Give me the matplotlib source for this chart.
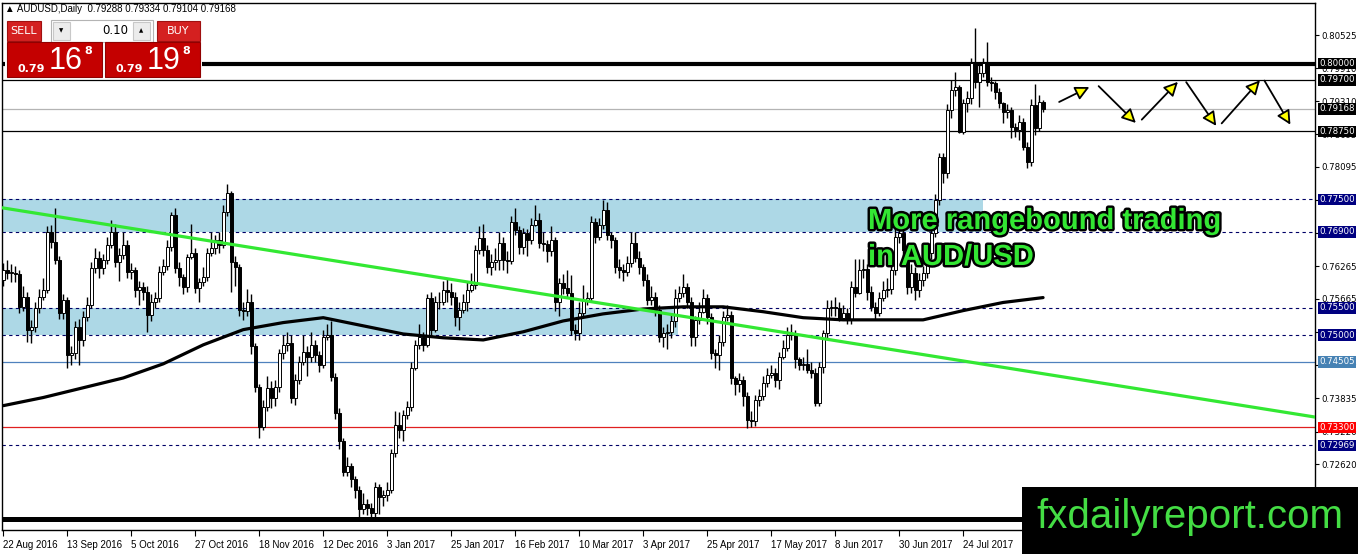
import numpy as np
import matplotlib.pyplot as plt
import matplotlib.patheffects as pe
import matplotlib.transforms as mtransforms
from matplotlib.patches import Rectangle, FancyArrowPatch

# AUDUSD daily candles, 22 Aug 2016 .. Aug 2017 (open = previous close)
first_open = 0.7602
closes = [
    0.7620, 0.7615, 0.7615, 0.7613, 0.7552, 0.7571, 0.7510, 0.7515, 0.7550, 0.7571,
    0.7583, 0.7690, 0.7672, 0.7639, 0.7541, 0.7565, 0.7464, 0.7467, 0.7514, 0.7491,
    0.7534, 0.7556, 0.7624, 0.7642, 0.7624, 0.7639, 0.7666, 0.7690, 0.7635, 0.7648,
    0.7666, 0.7617, 0.7620, 0.7583, 0.7589, 0.7580, 0.7537, 0.7561, 0.7569, 0.7617,
    0.7628, 0.7662, 0.7721, 0.7624, 0.7607, 0.7589, 0.7644, 0.7652, 0.7587, 0.7598,
    0.7607, 0.7652, 0.7661, 0.7675, 0.7666, 0.7727, 0.7762, 0.7635, 0.7626, 0.7547,
    0.7545, 0.7560, 0.7479, 0.7405, 0.7331, 0.7368, 0.7403, 0.7385, 0.7405, 0.7467,
    0.7482, 0.7486, 0.7385, 0.7418, 0.7451, 0.7469, 0.7460, 0.7482, 0.7464, 0.7445,
    0.7497, 0.7501, 0.7423, 0.7357, 0.7304, 0.7247, 0.7258, 0.7234, 0.7215, 0.7179,
    0.7188, 0.7182, 0.7173, 0.7221, 0.7201, 0.7205, 0.7215, 0.7283, 0.7335, 0.7326,
    0.7353, 0.7368, 0.7440, 0.7482, 0.7497, 0.7482, 0.7569, 0.7510, 0.7561, 0.7560,
    0.7583, 0.7580, 0.7571, 0.7534, 0.7547, 0.7561, 0.7583, 0.7593, 0.7657, 0.7679,
    0.7657, 0.7626, 0.7635, 0.7639, 0.7670, 0.7639, 0.7637, 0.7709, 0.7694, 0.7662,
    0.7688, 0.7675, 0.7703, 0.7712, 0.7670, 0.7668, 0.7654, 0.7675, 0.7561, 0.7596,
    0.7587, 0.7578, 0.7510, 0.7504, 0.7541, 0.7565, 0.7569, 0.7709, 0.7681, 0.7703,
    0.7731, 0.7685, 0.7675, 0.7626, 0.7620, 0.7617, 0.7633, 0.7670, 0.7642, 0.7626,
    0.7602, 0.7565, 0.7571, 0.7547, 0.7497, 0.7504, 0.7506, 0.7525, 0.7569, 0.7578,
    0.7589, 0.7561, 0.7497, 0.7528, 0.7543, 0.7569, 0.7534, 0.7467, 0.7464, 0.7488,
    0.7534, 0.7537, 0.7421, 0.7409, 0.7418, 0.7387, 0.7344, 0.7342, 0.7381, 0.7387,
    0.7412, 0.7427, 0.7431, 0.7418, 0.7460, 0.7477, 0.7501, 0.7503, 0.7455, 0.7445,
    0.7447, 0.7436, 0.7431, 0.7375, 0.7442, 0.7504, 0.7550, 0.7552, 0.7549, 0.7532,
    0.7541, 0.7528, 0.7589, 0.7578, 0.7620, 0.7622, 0.7580, 0.7552, 0.7541, 0.7569,
    0.7583, 0.7585, 0.7620, 0.7681, 0.7688, 0.7657, 0.7589, 0.7615, 0.7583, 0.7602,
    0.7615, 0.7652, 0.7688, 0.7749, 0.7828, 0.7799, 0.7915, 0.7951, 0.7957, 0.7874,
    0.7927, 0.7937, 0.8001, 0.7966, 0.7983, 0.8001, 0.7966, 0.7964, 0.7948, 0.7927,
    0.7911, 0.7915, 0.7883, 0.7878, 0.7893, 0.7847, 0.7819, 0.7924, 0.7882, 0.79288,
    0.79168]
highs = [
    0.7632, 0.7638, 0.7630, 0.7628, 0.7620, 0.7590, 0.7580, 0.7528, 0.7560, 0.7585,
    0.7605, 0.7700, 0.7702, 0.7734, 0.7645, 0.7575, 0.7570, 0.7480, 0.7525, 0.7530,
    0.7545, 0.7570, 0.7635, 0.7660, 0.7655, 0.7650, 0.7680, 0.7712, 0.7705, 0.7660,
    0.7690, 0.7675, 0.7632, 0.7625, 0.7600, 0.7598, 0.7590, 0.7575, 0.7580, 0.7628,
    0.7640, 0.7675, 0.7727, 0.7734, 0.7635, 0.7612, 0.7650, 0.7705, 0.7660, 0.7605,
    0.7625, 0.7660, 0.7690, 0.7685, 0.7690, 0.7740, 0.7778, 0.7765, 0.7645, 0.7630,
    0.7560, 0.7585, 0.7575, 0.7485, 0.7410, 0.7380, 0.7425, 0.7415, 0.7418, 0.7475,
    0.7501, 0.7505, 0.7500, 0.7428, 0.7462, 0.7500, 0.7480, 0.7505, 0.7490, 0.7470,
    0.7510, 0.7520, 0.7525, 0.7430, 0.7365, 0.7310, 0.7275, 0.7265, 0.7240, 0.7222,
    0.7210, 0.7198, 0.7190, 0.7230, 0.7225, 0.7215, 0.7230, 0.7290, 0.7360, 0.7358,
    0.7362, 0.7378, 0.7450, 0.7490, 0.7520, 0.7505, 0.7575, 0.7580, 0.7572, 0.7580,
    0.7600, 0.7605, 0.7595, 0.7580, 0.7560, 0.7575, 0.7600, 0.7615, 0.7665, 0.7700,
    0.7705, 0.7665, 0.7650, 0.7660, 0.7690, 0.7680, 0.7655, 0.7720, 0.7734, 0.7700,
    0.7698, 0.7695, 0.7715, 0.7740, 0.7725, 0.7690, 0.7675, 0.7700, 0.7680, 0.7605,
    0.7612, 0.7620, 0.7610, 0.7520, 0.7560, 0.7593, 0.7580, 0.7720, 0.7715, 0.7715,
    0.7749, 0.7745, 0.7690, 0.7680, 0.7640, 0.7630, 0.7645, 0.7690, 0.7690, 0.7655,
    0.7630, 0.7612, 0.7590, 0.7580, 0.7555, 0.7515, 0.7520, 0.7540, 0.7585, 0.7590,
    0.7612, 0.7595, 0.7570, 0.7535, 0.7560, 0.7585, 0.7575, 0.7540, 0.7475, 0.7500,
    0.7545, 0.7555, 0.7545, 0.7425, 0.7430, 0.7425, 0.7395, 0.7360, 0.7390, 0.7400,
    0.7425, 0.7440, 0.7445, 0.7440, 0.7468, 0.7490, 0.7515, 0.7520, 0.7510, 0.7460,
    0.7460, 0.7475, 0.7450, 0.7440, 0.7450, 0.7510, 0.7565, 0.7565, 0.7570, 0.7560,
    0.7555, 0.7550, 0.7600, 0.7640, 0.7640, 0.7640, 0.7630, 0.7590, 0.7560, 0.7580,
    0.7600, 0.7605, 0.7630, 0.7700, 0.7712, 0.7700, 0.7665, 0.7630, 0.7625, 0.7615,
    0.7628, 0.7665, 0.7700, 0.7760, 0.7835, 0.7835, 0.7925, 0.7970, 0.7985, 0.7960,
    0.7935, 0.7950, 0.8010, 0.8065, 0.8000, 0.8010, 0.8040, 0.7975, 0.7968, 0.7955,
    0.7930, 0.7925, 0.7920, 0.7890, 0.7905, 0.7900, 0.7855, 0.7935, 0.7962, 0.7942,
    0.79334]
lows = [
    0.7590, 0.7604, 0.7598, 0.7597, 0.7540, 0.7545, 0.7488, 0.7485, 0.7506, 0.7540,
    0.7565, 0.7578, 0.7660, 0.7630, 0.7530, 0.7530, 0.7440, 0.7445, 0.7455, 0.7445,
    0.7480, 0.7525, 0.7550, 0.7615, 0.7605, 0.7612, 0.7630, 0.7660, 0.7625, 0.7600,
    0.7640, 0.7605, 0.7603, 0.7570, 0.7555, 0.7565, 0.7505, 0.7525, 0.7550, 0.7560,
    0.7610, 0.7620, 0.7655, 0.7615, 0.7590, 0.7575, 0.7580, 0.7640, 0.7578, 0.7560,
    0.7590, 0.7600, 0.7645, 0.7650, 0.7652, 0.7660, 0.7720, 0.7580, 0.7590, 0.7535,
    0.7528, 0.7535, 0.7465, 0.7395, 0.7311, 0.7325, 0.7360, 0.7365, 0.7370, 0.7395,
    0.7455, 0.7470, 0.7375, 0.7372, 0.7410, 0.7445, 0.7425, 0.7450, 0.7450, 0.7432,
    0.7440, 0.7490, 0.7415, 0.7345, 0.7290, 0.7240, 0.7240, 0.7220, 0.7200, 0.7165,
    0.7170, 0.7168, 0.7160, 0.7165, 0.7170, 0.7185, 0.7195, 0.7210, 0.7275, 0.7310,
    0.7305, 0.7345, 0.7360, 0.7435, 0.7475, 0.7470, 0.7478, 0.7500, 0.7505, 0.7548,
    0.7555, 0.7560, 0.7555, 0.7516, 0.7510, 0.7540, 0.7545, 0.7580, 0.7585, 0.7650,
    0.7645, 0.7615, 0.7610, 0.7620, 0.7620, 0.7620, 0.7615, 0.7630, 0.7685, 0.7650,
    0.7650, 0.7645, 0.7668, 0.7700, 0.7660, 0.7655, 0.7635, 0.7645, 0.7545, 0.7535,
    0.7575, 0.7570, 0.7500, 0.7490, 0.7490, 0.7535, 0.7555, 0.7560, 0.7670, 0.7675,
    0.7695, 0.7675, 0.7660, 0.7615, 0.7605, 0.7600, 0.7608, 0.7625, 0.7635, 0.7612,
    0.7590, 0.7555, 0.7555, 0.7535, 0.7488, 0.7478, 0.7475, 0.7495, 0.7515, 0.7560,
    0.7570, 0.7550, 0.7480, 0.7480, 0.7520, 0.7540, 0.7520, 0.7455, 0.7440, 0.7435,
    0.7480, 0.7525, 0.7410, 0.7390, 0.7395, 0.7370, 0.7329, 0.7330, 0.7332, 0.7370,
    0.7380, 0.7405, 0.7420, 0.7405, 0.7400, 0.7455, 0.7470, 0.7490, 0.7440, 0.7435,
    0.7435, 0.7430, 0.7420, 0.7370, 0.7370, 0.7430, 0.7495, 0.7535, 0.7535, 0.7525,
    0.7528, 0.7520, 0.7520, 0.7570, 0.7575, 0.7605, 0.7565, 0.7545, 0.7530, 0.7535,
    0.7562, 0.7570, 0.7575, 0.7610, 0.7670, 0.7645, 0.7575, 0.7578, 0.7565, 0.7570,
    0.7590, 0.7605, 0.7640, 0.7680, 0.7740, 0.7780, 0.7790, 0.7900, 0.7940, 0.7872,
    0.7870, 0.7910, 0.7925, 0.7955, 0.7920, 0.7975, 0.7958, 0.7950, 0.7935, 0.7918,
    0.7890, 0.7900, 0.7862, 0.7865, 0.7860, 0.7840, 0.7808, 0.7812, 0.7869, 0.7875,
    0.79104]

# 200-day moving average read every 10 bars
ma_idx = list(range(0, 261, 10))
ma_vals = [0.7370, 0.7385, 0.7403, 0.7421, 0.7447, 0.7482, 0.7510, 0.7523, 0.7532,
           0.7517, 0.7502, 0.7495, 0.7491, 0.7506, 0.7526, 0.7539, 0.7548, 0.7552,
           0.7552, 0.7543, 0.7532, 0.7528, 0.7528, 0.7528, 0.7545, 0.7560, 0.7569]

trend_x = [0, 328]
trend_y = [0.7734, 0.7349]

date_labels = ["22 Aug 2016", "13 Sep 2016", "5 Oct 2016", "27 Oct 2016", "18 Nov 2016",
               "12 Dec 2016", "3 Jan 2017", "25 Jan 2017", "16 Feb 2017", "10 Mar 2017",
               "3 Apr 2017", "25 Apr 2017", "17 May 2017", "8 Jun 2017", "30 Jun 2017",
               "24 Jul 2017"]
price_ticks = [0.80525, 0.79910, 0.79310, 0.78695, 0.78095, 0.77480, 0.76880, 0.76265,
               0.75665, 0.75050, 0.74450, 0.73835, 0.73220, 0.72620, 0.72005]

solid_levels = [(0.8000, "black", 3.0), (0.7970, "black", 0.9), (0.79168, "#b4b4b4", 0.9),
                (0.7875, "black", 0.9), (0.74505, "#4f81bd", 0.9), (0.7330, "#e02020", 0.9),
                (0.7162, "black", 3.6)]
dashed_levels = [0.7750, 0.7690, 0.7550, 0.7500, 0.72969]
label_boxes = [(0.8000, "black"), (0.7970, "black"), (0.79168, "black"), (0.7875, "black"),
               (0.7750, "#000080"), (0.7690, "#000080"), (0.7550, "#000080"),
               (0.7500, "#000080"), (0.74505, "#4682b4"), (0.7330, "#ff0000"),
               (0.72969, "#000080")]
zones = [(0.7690, 0.7750, 245), (0.7500, 0.7550, 168.7)]

zigzag = [((263.4, 0.7927), (272.2, 0.7959)), ((273.4, 0.7962), (283.7, 0.7887)),
          ((284.2, 0.7893), (294.2, 0.7970)), ((295.4, 0.7970), (303.7, 0.7881)),
          ((304.2, 0.7886), (314.7, 0.7973)), ((315.0, 0.7973), (322.2, 0.7883))]

W, H = 1358, 554
fig = plt.figure(figsize=(W / 100, H / 100), dpi=100)
ax = fig.add_axes([2 / W, 24 / H, 1313 / W, 527 / H])
ax.set_xlim(-0.33, 328)
ax.set_ylim(0.71410, 0.81115)

n = len(closes)
idx = np.arange(n)
c = np.array(closes)
o = np.array([first_open] + closes[:-1])
hi = np.maximum(np.array(highs), np.maximum(o, c))
lo = np.minimum(np.array(lows), np.minimum(o, c))

# zones and levels
for z_lo, z_hi, z_end in zones:
    ax.fill_between([-0.33, z_end], z_lo, z_hi, color="#add8e6", lw=0, zorder=1)
for lev in dashed_levels:
    ax.axhline(lev, color="#000066", lw=0.8, ls=(0, (3, 3)), zorder=2)
for lev, col, lw in solid_levels:
    ax.axhline(lev, color=col, lw=lw, zorder=2)

# candles
ax.vlines(idx, lo, hi, color="black", lw=1, zorder=3)
up = c >= o
body_lo = np.minimum(o, c)
body_h = np.maximum(np.abs(c - o), 0.00006)
ax.bar(idx[up], body_h[up], bottom=body_lo[up], width=0.72, color="white",
       edgecolor="black", lw=0.7, zorder=4)
ax.bar(idx[~up], body_h[~up], bottom=body_lo[~up], width=0.72, color="black",
       edgecolor="black", lw=0.7, zorder=4)

ax.plot(ma_idx, ma_vals, color="black", lw=2.3, zorder=5, solid_capstyle="round")
ax.plot(trend_x, trend_y, color="#33e833", lw=2.3, zorder=5)

for (x0, y0), (x1, y1) in zigzag:
    ax.add_patch(FancyArrowPatch((x0, y0), (x1, y1),
                                 arrowstyle="-|>,head_length=0.7,head_width=0.35",
                                 mutation_scale=12, fc="#ffff00", ec="black", lw=1.3,
                                 zorder=6))

# axes styling
ax.yaxis.tick_right()
ax.set_yticks(price_ticks)
ax.set_yticklabels([f"{v:.5f}" for v in price_ticks])
ax.tick_params(axis="y", direction="out", length=3, labelsize=6.2, pad=1.5)
ax.set_xticks(range(0, 16 * len(date_labels), 16))
ax.set_xticklabels(date_labels, fontsize=7, family="Liberation Sans")
ax.tick_params(axis="x", direction="out", length=4, pad=3)
for lab in ax.get_xticklabels():
    lab.set_ha("left")
for s in ax.spines.values():
    s.set_color("black")
    s.set_linewidth(1)

trans = mtransforms.blended_transform_factory(ax.transAxes, ax.transData)
for lev, col in label_boxes:
    ax.text(1.003, lev, f"{lev:.5f}", transform=trans, fontsize=6.2, color="white",
            ha="left", va="center", clip_on=False, zorder=20,
            bbox=dict(boxstyle="square,pad=0.15", fc=col, ec="none"))

# overlay in pixel coordinates for the terminal decorations
ov = fig.add_axes([0, 0, 1, 1], zorder=10)
ov.set_xlim(0, W)
ov.set_ylim(H, 0)
ov.axis("off")
ov.patch.set_alpha(0)

ov.text(5, 9, "\u25b2 AUDUSD,Daily  0.79288 0.79334 0.79104 0.79168", fontsize=7,
        va="center", family=["Liberation Sans", "DejaVu Sans"])

ov.add_patch(Rectangle((5, 19), 197, 60, fc="white", ec="none"))
ov.add_patch(Rectangle((7, 21), 34, 20, fc="#d42020", ec="#a01010", lw=0.8))
ov.text(24, 31, "SELL", color="white", fontsize=8, ha="center", va="center")
ov.add_patch(Rectangle((51, 20), 102, 22, fc="white", ec="#b4b4b4", lw=0.8))
ov.add_patch(Rectangle((53, 22), 17, 18, fc="#ececec", ec="#c8c8c8", lw=0.8))
ov.add_patch(Rectangle((133, 22), 17, 18, fc="#ececec", ec="#c8c8c8", lw=0.8))
ov.text(61.5, 31, "\u25bc", fontsize=4, ha="center", va="center")
ov.text(141.5, 31, "\u25b2", fontsize=4, ha="center", va="center")
ov.text(128, 31, "0.10", fontsize=8.5, ha="right", va="center")
ov.add_patch(Rectangle((157, 21), 43, 20, fc="#d42020", ec="#a01010", lw=0.8))
ov.text(178, 31, "BUY", color="white", fontsize=8, ha="center", va="center")
for bx, big in [(7, "16"), (105, "19")]:
    ov.add_patch(Rectangle((bx, 42), 95, 35, fc="#c40000", ec="#900000", lw=0.8))
    ov.text(bx + 24, 69, "0.79", color="white", fontsize=8, weight="bold",
            ha="center", va="center")
    ov.text(bx + 59, 61, big, color="white", fontsize=22, ha="center", va="center",
            family="Liberation Sans")
    ov.text(bx + 81, 51, "8", color="white", fontsize=8, weight="bold",
            ha="center", va="center")

glow = [pe.withStroke(linewidth=3.5, foreground="black")]
ov.text(868, 221, "More rangebound trading", fontsize=21, weight="bold",
        color="#33e633", va="center", family="Liberation Sans", path_effects=glow)
ov.text(868, 257, "in AUD/USD", fontsize=21, weight="bold",
        color="#33e633", va="center", family="Liberation Sans", path_effects=glow)

ov.add_patch(Rectangle((1022, 487), 336, 67, fc="black", ec="none"))
ov.text(1190, 517, "fxdailyreport.com", fontsize=29, color="#44dd44",
        ha="center", va="center", family="Liberation Sans")

fig.savefig("out.png", dpi=100)
